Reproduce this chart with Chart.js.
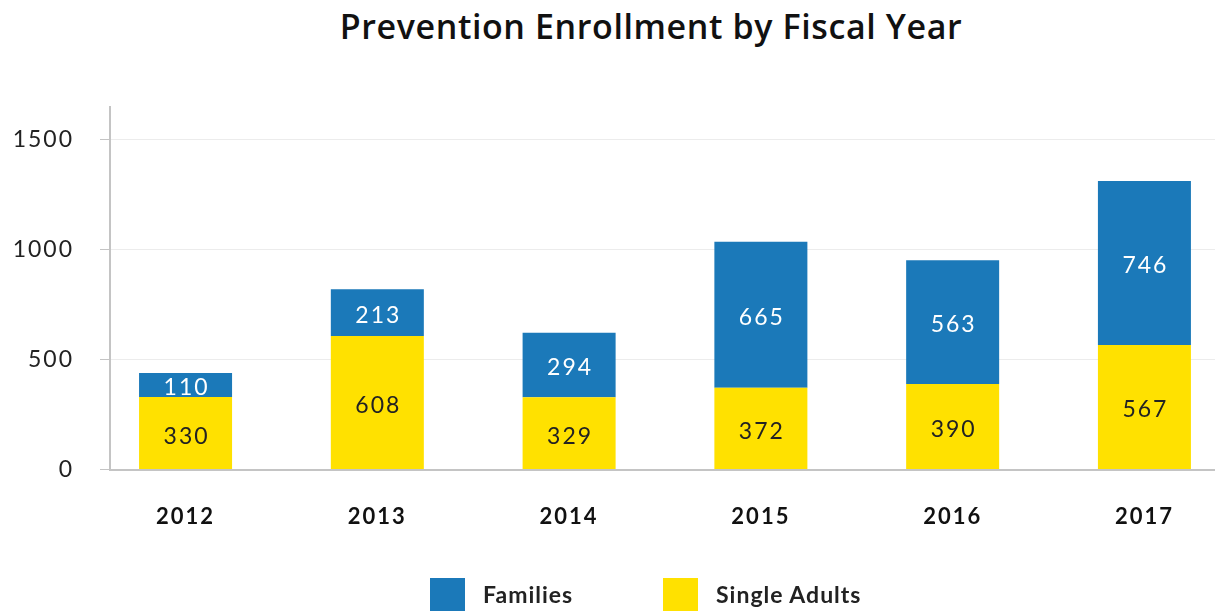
<!DOCTYPE html>
<html>
<head>
<meta charset="utf-8">
<title>Prevention Enrollment by Fiscal Year</title>
<script src="https://cdn.jsdelivr.net/npm/chart.js@4.4.1/dist/chart.umd.min.js"></script>
<style>
  body { margin: 0; background: #fff; }
  #wrap { position: relative; width: 1215px; height: 611px; overflow: hidden; font-family: Lato, sans-serif; }
  #title { position: absolute; top: 5px; left: 0; width: 1302px; line-height: 42px; text-align: center;
           font-family: "Open Sans", sans-serif; font-size: 34px; font-weight: 600; letter-spacing: 0.6px; color: #111; }
  #chart { position: absolute; left: 0; top: 0; }
  #legend { position: absolute; left: 430px; top: 578px; display: flex; }
  .legend-item { width: 233px; display: flex; align-items: flex-start; }
  .legend-box { width: 35px; height: 35px; margin-right: 18px; }
  .legend-text { font-size: 23px; font-weight: bold; color: #222; letter-spacing: 1px; line-height: 30px; margin-top: 1px; }
</style>
</head>
<body>
<div id="wrap">
  <div id="title">Prevention Enrollment by Fiscal Year</div>
  <canvas id="chart" width="1215" height="611"></canvas>
  <div id="legend"></div>
</div>
<script>
// Enrollment counts per fiscal year
const years = ['2012', '2013', '2014', '2015', '2016', '2017'];
const families = [110, 213, 294, 665, 563, 746];
const singleAdults = [330, 608, 329, 372, 390, 567];
const yTicks = [0, 500, 1000, 1500];

const BLUE = '#1b79b9';
const YELLOW = '#ffe100';

// value labels centred inside each stacked segment
const barLabels = {
    id: 'barLabels',
    beforeDraw(chart) {
        chart.ctx.letterSpacing = '2px';
    },
    afterDatasetsDraw(chart) {
        const ctx = chart.ctx;
        ctx.save();
        ctx.font = '23px Lato';
        ctx.textAlign = 'center';
        ctx.textBaseline = 'middle';
        chart.data.datasets.forEach((ds, i) => {
            ctx.fillStyle = ds.labelColor;
            chart.getDatasetMeta(i).data.forEach((bar, j) => {
                ctx.fillText(ds.data[j].y, bar.x + 1, (bar.y + bar.base) / 2 + 3);
            });
        });
        ctx.restore();
    }
};

const toPoints = arr => arr.map((v, i) => ({ x: i, y: v }));

const datasets = [
    { label: 'Single Adults', data: toPoints(singleAdults), backgroundColor: YELLOW, labelColor: '#222' },
    { label: 'Families', data: toPoints(families), backgroundColor: BLUE, labelColor: '#fff' }
];

new Chart(document.getElementById('chart'), {
    type: 'bar',
    data: { datasets },
    options: {
        responsive: false,
        animation: false,
        layout: { padding: { top: 107, bottom: 47, left: 0, right: 0 } },
        datasets: { bar: { barPercentage: 0.485, categoryPercentage: 1 } },
        plugins: {
            legend: { display: false },
            tooltip: { enabled: false },
            title: { display: false }
        },
        scales: {
            x: {
                type: 'linear',
                stacked: true,
                offset: false,
                min: -0.394,
                max: 5.368,
                afterBuildTicks: s => { s.ticks = years.map((_, i) => ({ value: i })); },
                grid: { display: false, drawTicks: false },
                border: { color: '#c4c4c4', width: 2 },
                ticks: {
                    padding: 34,
                    autoSkip: false,
                    maxRotation: 0,
                    color: '#111',
                    font: { family: 'Lato', size: 22, weight: 'bold' },
                    callback: v => years[v]
                }
            },
            y: {
                stacked: true,
                min: 0,
                max: 1650,
                afterFit: s => { s.width = 110; },
                afterBuildTicks: s => { s.ticks = yTicks.map(v => ({ value: v })); },
                grid: { color: '#ececec', tickColor: '#c4c4c4', tickLength: 10 },
                border: { color: '#c4c4c4', width: 2 },
                ticks: {
                    padding: 26,
                    color: '#222',
                    font: { family: 'Lato', size: 23 },
                    callback: v => String(v)
                }
            }
        }
    },
    plugins: [barLabels]
});

// legend: Families first, then Single Adults
const legend = document.getElementById('legend');
[datasets[1], datasets[0]].forEach(ds => {
    const item = document.createElement('div');
    item.className = 'legend-item';
    item.innerHTML = `<div class="legend-box" style="background:${ds.backgroundColor}"></div>
        <span class="legend-text">${ds.label}</span>`;
    legend.appendChild(item);
});
</script>
</body>
</html>
